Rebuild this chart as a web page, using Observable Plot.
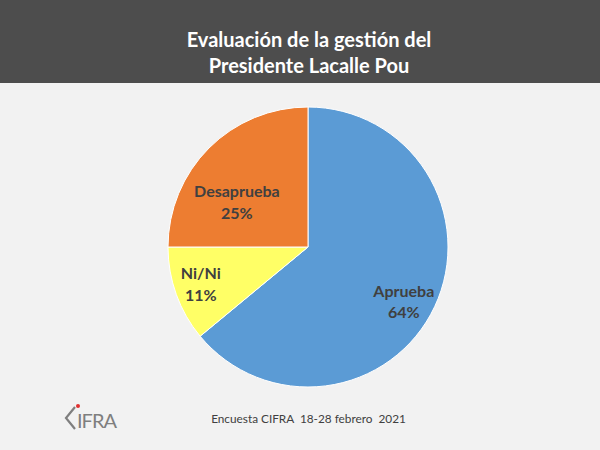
<!DOCTYPE html>
<html><head><meta charset="utf-8">
<script src="https://cdn.jsdelivr.net/npm/d3@7"></script>
<script src="https://cdn.jsdelivr.net/npm/@observablehq/plot@0.6"></script>
<style>
html,body{margin:0;padding:0;background:#f2f2f2;width:600px;height:450px;overflow:hidden;font-family:Lato,"Open Sans",sans-serif;}
#header{height:83px;background:#4d4d4d;color:#fff;font-weight:bold;font-size:20px;text-align:center;line-height:26px;padding-top:26px;padding-left:18px;box-sizing:border-box;overflow:hidden;}
#chart{height:320px;}
#footer{position:relative;height:47px;}
#caption{position:absolute;left:0;width:617px;top:8px;text-align:center;font-size:11.8px;color:#404040;}
#logo{position:absolute;left:63px;top:0px;}
</style></head>
<body>
<div id="header"><div>Evaluación de la gestión del</div><div>Presidente Lacalle Pou</div></div>
<div id="chart"></div>
<div id="footer">
<svg id="logo" width="60" height="30" viewBox="0 0 60 30">
<polyline points="12,4 3,15 12,26" fill="none" stroke="#7f7f7f" stroke-width="2.2"/>
<circle cx="15" cy="3" r="2" fill="#e03030"/>
<text x="14" y="25" font-family="Lato,sans-serif" font-size="20" fill="#7f7f7f" letter-spacing="-1">IFRA</text>
</svg>
<div id="caption">Encuesta CIFRA&nbsp; 18-28 febrero&nbsp; 2021</div>
</div>
<script>
const categories = ["Aprueba", "Ni/Ni", "Desaprueba"];
const values = [64, 11, 25];
const labels = ["64%", "11%", "25%"];
const colors = ["#5b9bd5", "#ffff66", "#ed7d31"];

// label placement (fraction of radius, angle tweak in degrees)
const labelPlacement = {
  "Aprueba": {r: 0.78, da: 4},
  "Ni/Ni": {r: 0.81, da: 1.5},
  "Desaprueba": {r: 0.61, da: -12}
};

const data = categories.map((c, i) => ({category: c, value: values[i], label: labels[i], color: colors[i]}));
const arcs = d3.pie().value(d => d.value).sort(null)(data);
const labelData = arcs.map(a => {
  const p = labelPlacement[a.data.category];
  const mid = (a.startAngle + a.endAngle) / 2 + p.da * Math.PI / 180;
  return {...a.data, x: p.r * Math.sin(mid), y: p.r * Math.cos(mid)};
});

const R = 140;
const chart = Plot.plot({
  width: 600,
  height: 320,
  margin: 0,
  style: {background: "transparent", overflow: "visible"},
  x: {domain: [-1, 1], range: [308 - R, 308 + R], axis: null},
  y: {domain: [-1, 1], range: [164 + R, 164 - R], axis: null},
  marks: [
    (index, scales) => {
      const g = d3.create("svg:g");
      const cx = scales.x(0), cy = scales.y(0);
      const rad = scales.x(1) - scales.x(0);
      const arc = d3.arc().innerRadius(0).outerRadius(rad);
      g.attr("transform", `translate(${cx},${cy})`)
        .selectAll("path").data(arcs).join("path")
        .attr("d", arc)
        .attr("fill", d => d.data.color)
        .attr("stroke", "#ffffff")
        .attr("stroke-width", 1);
      return g.node();
    },
    Plot.text(labelData, {
      x: "x", y: "y",
      text: d => d.category + "\n" + d.label,
      fill: "#404040",
      fontSize: 16,
      fontWeight: "bold",
      fontFamily: "Lato, 'Open Sans', sans-serif",
      lineHeight: 1.35
    })
  ]
});
document.getElementById("chart").appendChild(chart);
</script>
</body></html>
